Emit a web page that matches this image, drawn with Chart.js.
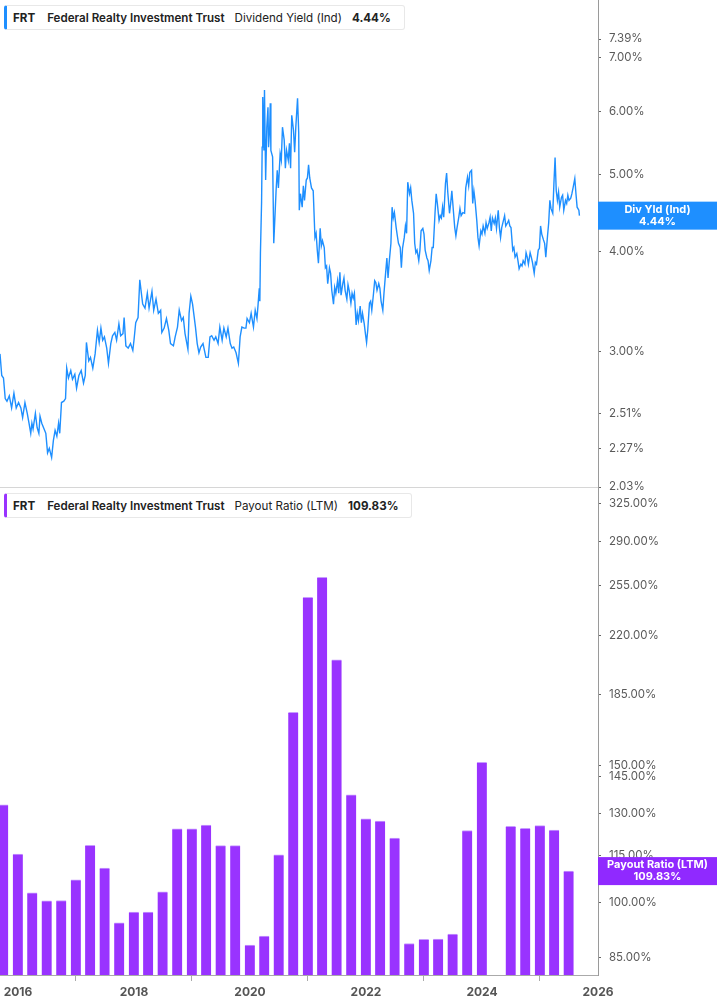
<!DOCTYPE html>
<html>
<head>
<meta charset="utf-8">
<script src="https://cdn.jsdelivr.net/npm/chart.js@4.4.1/dist/chart.umd.min.js"></script>
<style>
  body { margin: 0; background: #fff; font-family: Inter, "Noto Sans", sans-serif; }
  #wrap { position: relative; width: 717px; height: 1005px; overflow: hidden; }
  canvas { position: absolute; left: 0; }
  #yieldChart { top: 0; }
  #payoutChart { top: 480px; }
  .legend {
    position: absolute; left: 4px; height: 25px; box-sizing: border-box;
    background: #fff; border: 1px solid #e8e8e8; border-radius: 3px;
    display: flex; align-items: center; white-space: nowrap;
    font-size: 11.6px; color: #222; padding: 0 13px 0 6px;
  }
  .legend .tk { font-weight: 700; }
  .legend .nm { font-weight: 600; margin-left: 12px; }
  .legend .ml { font-weight: 400; margin-left: 10px; }
  .legend .vl { font-weight: 700; margin-left: 10px; }
  #legTop { top: 5px; border-left: 3px solid #1e8fff; }
  #legBottom { top: 493px; border-left: 3px solid #9933ff; }
</style>
</head>
<body>
<div id="wrap">
  <canvas id="yieldChart" width="717" height="495"></canvas>
  <canvas id="payoutChart" width="717" height="525"></canvas>
  <div class="legend" id="legTop"><span class="tk">FRT</span><span class="nm">Federal Realty Investment Trust</span><span class="ml">Dividend Yield (Ind)</span><span class="vl">4.44%</span></div>
  <div class="legend" id="legBottom"><span class="tk">FRT</span><span class="nm">Federal Realty Investment Trust</span><span class="ml">Payout Ratio (LTM)</span><span class="vl">109.83%</span></div>
</div>
<script>
// Données
const yieldYears = [
  2015.69, 2015.72, 2015.75, 2015.78, 2015.81, 2015.85, 2015.89, 2015.93, 2015.97, 2016.01,
  2016.05, 2016.08, 2016.12, 2016.16, 2016.19, 2016.22, 2016.24, 2016.26, 2016.30, 2016.33,
  2016.36, 2016.38, 2016.41, 2016.45, 2016.48, 2016.51, 2016.54, 2016.58, 2016.61, 2016.64,
  2016.67, 2016.70, 2016.72, 2016.75, 2016.79, 2016.82, 2016.84, 2016.87, 2016.91, 2016.94,
  2016.98, 2017.01, 2017.05, 2017.09, 2017.13, 2017.16, 2017.18, 2017.22, 2017.25, 2017.29,
  2017.33, 2017.37, 2017.40, 2017.43, 2017.46, 2017.49, 2017.53, 2017.56, 2017.60, 2017.63,
  2017.67, 2017.70, 2017.74, 2017.77, 2017.81, 2017.83, 2017.86, 2017.90, 2017.94, 2017.98,
  2018.00, 2018.03, 2018.07, 2018.10, 2018.15, 2018.19, 2018.23, 2018.26, 2018.31, 2018.34,
  2018.38, 2018.42, 2018.46, 2018.48, 2018.52, 2018.56, 2018.60, 2018.63, 2018.68, 2018.71,
  2018.75, 2018.78, 2018.82, 2018.85, 2018.88, 2018.93, 2018.95, 2018.98, 2019.01, 2019.03,
  2019.06, 2019.09, 2019.12, 2019.15, 2019.19, 2019.24, 2019.28, 2019.31, 2019.34, 2019.38,
  2019.41, 2019.45, 2019.48, 2019.52, 2019.55, 2019.59, 2019.62, 2019.66, 2019.69, 2019.72,
  2019.76, 2019.80, 2019.83, 2019.86, 2019.90, 2019.93, 2019.95, 2019.99, 2020.02, 2020.06,
  2020.09, 2020.12, 2020.14, 2020.16, 2020.17, 2020.18, 2020.20, 2020.21, 2020.22, 2020.24,
  2020.25, 2020.27, 2020.29, 2020.31, 2020.32, 2020.34, 2020.35, 2020.36, 2020.39, 2020.41,
  2020.45, 2020.47, 2020.49, 2020.52, 2020.54, 2020.56, 2020.59, 2020.61, 2020.63, 2020.66,
  2020.68, 2020.70, 2020.72, 2020.75, 2020.77, 2020.79, 2020.82, 2020.84, 2020.85, 2020.87,
  2020.90, 2020.92, 2020.94, 2020.97, 2020.99, 2021.01, 2021.03, 2021.06, 2021.09, 2021.12,
  2021.14, 2021.16, 2021.18, 2021.21, 2021.23, 2021.25, 2021.28, 2021.30, 2021.32, 2021.34,
  2021.37, 2021.39, 2021.41, 2021.44, 2021.46, 2021.48, 2021.51, 2021.53, 2021.55, 2021.57,
  2021.60, 2021.62, 2021.64, 2021.67, 2021.69, 2021.71, 2021.74, 2021.76, 2021.78, 2021.80,
  2021.83, 2021.85, 2021.87, 2021.90, 2021.92, 2021.94, 2021.97, 2021.99, 2022.01, 2022.03,
  2022.06, 2022.08, 2022.10, 2022.13, 2022.15, 2022.17, 2022.19, 2022.22, 2022.24, 2022.26,
  2022.29, 2022.31, 2022.33, 2022.36, 2022.38, 2022.40, 2022.43, 2022.45, 2022.47, 2022.49,
  2022.52, 2022.54, 2022.56, 2022.59, 2022.61, 2022.63, 2022.66, 2022.68, 2022.70, 2022.72,
  2022.75, 2022.77, 2022.79, 2022.82, 2022.84, 2022.86, 2022.88, 2022.91, 2022.93, 2022.95,
  2022.98, 2023.00, 2023.02, 2023.05, 2023.07, 2023.09, 2023.12, 2023.14, 2023.16, 2023.19,
  2023.21, 2023.23, 2023.26, 2023.28, 2023.30, 2023.32, 2023.34, 2023.37, 2023.39, 2023.41,
  2023.44, 2023.46, 2023.48, 2023.51, 2023.53, 2023.55, 2023.57, 2023.60, 2023.62, 2023.64,
  2023.67, 2023.70, 2023.72, 2023.75, 2023.77, 2023.79, 2023.82, 2023.84, 2023.86, 2023.88,
  2023.91, 2023.93, 2023.95, 2023.98, 2024.00, 2024.02, 2024.05, 2024.07, 2024.09, 2024.12,
  2024.14, 2024.16, 2024.18, 2024.21, 2024.23, 2024.25, 2024.28, 2024.30, 2024.32, 2024.34,
  2024.37, 2024.39, 2024.41, 2024.44, 2024.46, 2024.48, 2024.50, 2024.53, 2024.55, 2024.57,
  2024.60, 2024.62, 2024.64, 2024.67, 2024.69, 2024.71, 2024.74, 2024.76, 2024.78, 2024.80,
  2024.83, 2024.85, 2024.87, 2024.90, 2024.92, 2024.94, 2024.97, 2024.99, 2025.01, 2025.03,
  2025.06, 2025.08, 2025.10, 2025.13, 2025.15, 2025.17, 2025.19, 2025.22, 2025.24, 2025.26,
  2025.28, 2025.30, 2025.32, 2025.34, 2025.37, 2025.39, 2025.41, 2025.44, 2025.46, 2025.48,
  2025.50, 2025.53, 2025.55, 2025.57, 2025.60, 2025.62, 2025.64, 2025.67, 2025.68
];
const yieldValues = [
  2.98, 2.80, 2.78, 2.62, 2.60, 2.64, 2.55, 2.66, 2.55, 2.59,
  2.55, 2.48, 2.59, 2.51, 2.44, 2.37, 2.44, 2.40, 2.51, 2.41,
  2.37, 2.49, 2.44, 2.40, 2.37, 2.24, 2.27, 2.21, 2.32, 2.39,
  2.35, 2.44, 2.37, 2.59, 2.60, 2.62, 2.86, 2.78, 2.84, 2.77,
  2.81, 2.70, 2.80, 2.84, 2.74, 2.80, 3.08, 2.92, 2.95, 2.86,
  2.98, 3.19, 3.08, 3.21, 3.10, 3.13, 3.03, 2.90, 3.07, 3.14,
  3.17, 3.10, 3.25, 3.14, 3.16, 3.31, 3.05, 3.03, 3.07, 3.01,
  3.10, 3.26, 3.31, 3.69, 3.44, 3.40, 3.55, 3.40, 3.57, 3.38,
  3.49, 3.35, 3.38, 3.17, 3.21, 3.30, 3.19, 3.07, 3.05, 3.13,
  3.22, 3.38, 3.28, 3.31, 3.16, 3.02, 3.35, 3.52, 3.44, 3.35,
  3.22, 3.07, 2.99, 3.04, 3.07, 2.95, 2.95, 3.13, 3.14, 3.10,
  3.13, 3.07, 3.22, 3.10, 3.21, 3.13, 3.21, 3.07, 3.03, 3.04,
  2.99, 2.90, 3.13, 3.22, 3.21, 3.21, 3.30, 3.26, 3.35, 3.22,
  3.38, 3.30, 3.44, 3.60, 3.47, 3.98, 4.62, 5.41, 6.25, 5.36,
  6.38, 4.92, 5.73, 6.07, 5.41, 5.73, 6.14, 5.36, 5.26, 4.10,
  4.77, 5.06, 4.81, 5.31, 5.21, 5.73, 5.52, 5.09, 5.36, 5.21,
  5.47, 5.09, 5.93, 5.68, 5.33, 5.73, 6.23, 5.64, 4.51, 4.73,
  4.55, 4.84, 4.64, 4.92, 4.95, 5.14, 4.95, 4.81, 4.77, 4.17,
  4.22, 4.02, 3.87, 4.28, 4.07, 4.13, 4.05, 3.82, 3.84, 3.65,
  3.82, 3.76, 3.58, 3.44, 3.61, 3.55, 3.68, 3.55, 3.77, 3.53,
  3.65, 3.71, 3.58, 3.49, 3.64, 3.58, 3.45, 3.55, 3.50, 3.55,
  3.24, 3.35, 3.28, 3.42, 3.26, 3.35, 3.25, 3.16, 3.08, 3.19,
  3.45, 3.47, 3.38, 3.55, 3.68, 3.66, 3.58, 3.65, 3.60, 3.47,
  3.38, 3.55, 3.70, 3.93, 3.71, 3.88, 4.10, 4.55, 4.41, 4.48,
  4.29, 4.19, 4.10, 4.05, 3.82, 4.04, 4.17, 4.31, 4.22, 4.89,
  4.73, 4.81, 4.64, 4.47, 4.10, 3.99, 4.02, 3.90, 4.02, 4.25,
  4.28, 4.21, 4.02, 3.93, 3.90, 3.79, 3.90, 4.05, 4.05, 4.47,
  4.73, 4.60, 4.38, 4.44, 4.41, 4.55, 4.42, 4.87, 5.02, 4.75,
  4.47, 4.60, 4.77, 4.47, 4.29, 4.19, 4.29, 4.42, 4.53, 4.44,
  4.48, 4.47, 4.81, 4.96, 4.84, 5.03, 5.06, 4.60, 4.77, 4.64,
  4.38, 4.17, 4.07, 4.25, 4.21, 4.31, 4.22, 4.35, 4.28, 4.35,
  4.42, 4.25, 4.41, 4.34, 4.41, 4.28, 4.51, 4.29, 4.17, 4.29,
  4.38, 4.44, 4.31, 4.35, 4.38, 4.31, 4.29, 4.02, 4.05, 3.94,
  3.98, 3.90, 3.81, 3.86, 3.84, 3.90, 3.86, 3.99, 3.94, 3.86,
  3.99, 3.94, 3.88, 3.76, 3.88, 3.86, 4.02, 4.04, 4.31, 4.21,
  4.14, 4.10, 3.94, 4.19, 4.35, 4.64, 4.53, 4.47, 4.87, 5.25,
  4.77, 4.64, 4.75, 4.55, 4.68, 4.71, 4.51, 4.64, 4.60, 4.71,
  4.64, 4.67, 4.73, 4.81, 4.94, 4.73, 4.55, 4.51, 4.44
];
const payoutDates = [
  '2015-09-30', '2015-12-31', '2016-03-31', '2016-06-30', '2016-09-30', '2016-12-31',
  '2017-03-31', '2017-06-30', '2017-09-30', '2017-12-31', '2018-03-31', '2018-06-30',
  '2018-09-30', '2018-12-31', '2019-03-31', '2019-06-30', '2019-09-30', '2019-12-31',
  '2020-03-31', '2020-06-30', '2020-09-30', '2020-12-31', '2021-03-31', '2021-06-30',
  '2021-09-30', '2021-12-31', '2022-03-31', '2022-06-30', '2022-09-30', '2022-12-31',
  '2023-03-31', '2023-06-30', '2023-09-30', '2023-12-31', '2024-03-31', '2024-06-30',
  '2024-09-30', '2024-12-31', '2025-03-31', '2025-06-30'
];
const payoutValues = [
  133.5, 115.5, 103.0, 100.6, 100.7, 107.0, 118.5, 110.8, 94.3, 97.3,
  97.3, 103.3, 124.4, 124.4, 125.8, 118.4, 118.4, 88.3, 90.7, 115.2,
  175.4, 246.3, 261.2, 204.8, 137.5, 128.1, 127.3, 121.1, 88.7, 89.8,
  89.9, 91.2, 123.8, 151.4, null, 125.3, 124.6, 125.6, 124.0, 109.83
];
const yieldTicks = [2.03, 2.27, 2.51, 3.00, 4.00, 5.00, 6.00, 7.00, 7.39];
const payoutTicks = [85, 100, 115, 130, 145, 150, 185, 220, 255, 290, 325];
const yearTicks = [2016, 2018, 2020, 2022, 2024, 2026];

const BLUE = '#1e8fff';
const PURPLE = '#9933ff';
const X_MIN = 2015.69, X_MAX = 2026.0;

function toYear(s) {
  const d = Date.parse(s + 'T00:00:00Z');
  const y = Number(s.slice(0, 4));
  const a = Date.UTC(y, 0, 1), b = Date.UTC(y + 1, 0, 1);
  return y + (d - a) / (b - a);
}

// Étiquette de valeur sur l'axe de droite
function badgePlugin(id, line1, line2, value, color) {
  return {
    id: id,
    afterDraw(chart) {
      const ctx = chart.ctx;
      const ys = chart.scales.y;
      const yc = ys.getPixelForValue(value);
      const x0 = chart.chartArea.right;
      ctx.save();
      ctx.fillStyle = color;
      ctx.fillRect(x0, yc - 14, chart.width - x0, 28);
      ctx.fillStyle = '#fff';
      ctx.font = '700 11px Inter, sans-serif';
      ctx.textAlign = 'center';
      ctx.textBaseline = 'middle';
      const xc = x0 + (chart.width - x0) / 2;
      ctx.fillText(line1, xc, yc - 6);
      ctx.fillText(line2, xc, yc + 6);
      ctx.restore();
    }
  };
}

const separator = {
  id: 'separator',
  afterDraw(chart) {
    const ctx = chart.ctx;
    const a = chart.chartArea;
    ctx.save();
    ctx.strokeStyle = '#d6d6d6';
    ctx.lineWidth = 1;
    ctx.beginPath();
    ctx.moveTo(0, a.bottom + 0.5);
    ctx.lineTo(a.right, a.bottom + 0.5);
    ctx.stroke();
    ctx.restore();
  }
};

function yAxis(min, max, ticks) {
  return {
    type: 'logarithmic',
    position: 'right',
    min: min,
    max: max,
    afterBuildTicks: s => { s.ticks = ticks.map(v => ({ value: v })); },
    afterFit: s => { s.width = 119; s.paddingTop = 0; s.paddingBottom = 0; },
    border: { display: true, color: '#9a9a9a', width: 1 },
    grid: { drawOnChartArea: false, drawTicks: true, tickLength: 3, color: '#666' },
    ticks: {
      autoSkip: false,
      padding: 8,
      color: '#5a5a5a',
      font: { family: 'Inter', size: 11.5 },
      callback: v => Number(v).toFixed(2) + '%'
    }
  };
}

Chart.defaults.font.family = 'Inter';

new Chart(document.getElementById('yieldChart'), {
  type: 'line',
  data: {
    datasets: [{
      data: yieldYears.map((x, i) => ({ x: x, y: yieldValues[i] })),
      borderColor: BLUE,
      borderWidth: 1.4,
      pointRadius: 0,
      tension: 0
    }]
  },
  options: {
    responsive: false,
    animation: false,
    layout: { padding: { top: 0, bottom: 8, left: 0, right: 0 } },
    plugins: { legend: { display: false }, tooltip: { enabled: false } },
    scales: {
      x: { type: 'linear', min: X_MIN, max: X_MAX, display: false },
      y: yAxis(2.03, 8.27, yieldTicks)
    }
  },
  plugins: [separator, badgePlugin('badgeTop', 'Div Yld (Ind)', '4.44%', 4.44, BLUE)]
});

const bars = [];
payoutDates.forEach((d, i) => {
  if (payoutValues[i] !== null) bars.push({ x: toYear(d), y: payoutValues[i] });
});

new Chart(document.getElementById('payoutChart'), {
  type: 'bar',
  data: {
    datasets: [{
      data: bars,
      backgroundColor: PURPLE,
      borderColor: '#c79cff',
      borderWidth: { top: 1, left: 0, right: 0, bottom: 0 },
      borderSkipped: false,
      barThickness: 10
    }]
  },
  options: {
    responsive: false,
    animation: false,
    layout: { padding: { top: 8, bottom: 0, left: 0, right: 0 } },
    plugins: { legend: { display: false }, tooltip: { enabled: false } },
    scales: {
      x: {
        type: 'linear',
        min: X_MIN,
        max: X_MAX,
        offset: false,
        afterBuildTicks: s => { s.ticks = yearTicks.map(v => ({ value: v })); },
        afterFit: s => { s.height = 30; s.paddingLeft = 0; s.paddingRight = 0; },
        border: { display: true, color: '#aaaaaa', width: 1 },
        grid: { drawOnChartArea: false, drawTicks: true, tickLength: 6, color: '#aaaaaa' },
        ticks: {
          autoSkip: false,
          maxRotation: 0,
          padding: 4,
          color: '#555',
          font: { family: 'Inter', size: 12, weight: '700' },
          callback: v => String(v)
        }
      },
      y: yAxis(80.84, 340, payoutTicks)
    }
  },
  plugins: [badgePlugin('badgeBottom', 'Payout Ratio (LTM)', '109.83%', 109.83, '#9029ff')]
});
</script>
</body>
</html>
